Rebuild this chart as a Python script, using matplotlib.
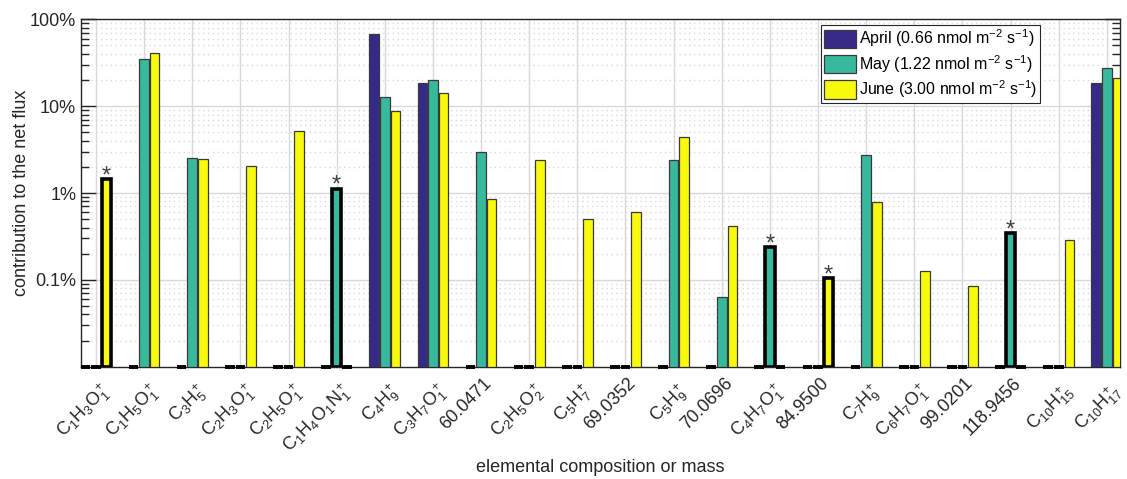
import numpy as np
import matplotlib
matplotlib.use("Agg")
import matplotlib.pyplot as plt
from matplotlib.patches import Patch
from matplotlib.ticker import FixedLocator, NullFormatter
from matplotlib.transforms import ScaledTranslation

plt.rcParams['font.family'] = ['Liberation Sans', 'DejaVu Sans']
plt.rcParams['mathtext.fontset'] = 'custom'
plt.rcParams['mathtext.rm'] = 'Liberation Sans'
plt.rcParams['mathtext.it'] = 'Liberation Sans:italic'
plt.rcParams['mathtext.bf'] = 'Liberation Sans:bold'

labels = [r'C$_1$H$_3$O$_1^+$', r'C$_1$H$_5$O$_1^+$', r'C$_3$H$_5^+$', r'C$_2$H$_3$O$_1^+$',
          r'C$_2$H$_5$O$_1^+$', r'C$_1$H$_4$O$_1$N$_1^+$', r'C$_4$H$_9^+$', r'C$_3$H$_7$O$_1^+$',
          '60.0471', r'C$_2$H$_5$O$_2^+$', r'C$_5$H$_7^+$', '69.0352', r'C$_5$H$_9^+$', '70.0696',
          r'C$_4$H$_7$O$_1^+$', '84.9500', r'C$_7$H$_9^+$', r'C$_6$H$_7$O$_1^+$', '99.0201',
          '118.9456', r'C$_{10}$H$_{15}^+$', r'C$_{10}$H$_{17}^+$']

# contribution to net flux in percent (0 = not observed)
april = [0, 0, 0, 0, 0, 0, 67, 18.4, 0, 0, 0, 0, 0, 0, 0, 0, 0, 0, 0, 0, 0, 18.7]
may   = [0, 34.6, 2.55, 0, 0, 1.12, 12.6, 19.8, 3.0, 0, 0, 0, 2.4, 0.063, 0.238, 0, 2.72, 0, 0, 0.343, 0, 27.2]
june  = [1.44, 41.2, 2.45, 2.05, 5.2, 0, 8.7, 14.1, 0.853, 2.38, 0.497, 0.598, 4.45, 0.413, 0, 0.104, 0.78, 0.128, 0.086, 0, 0.29, 20.9]
# bars marked with an asterisk: (group index, series index)
starred = [(0, 2), (5, 1), (14, 1), (15, 2), (19, 1)]

series_names = [r'April (0.66 nmol m$^{-2}$ s$^{-1}$)',
                r'May (1.22 nmol m$^{-2}$ s$^{-1}$)',
                r'June (3.00 nmol m$^{-2}$ s$^{-1}$)']
colors = ['#352a87', '#38b89d', '#f8fa0d']

fig = plt.figure(figsize=(11.27, 4.79), dpi=100)
ax = fig.add_axes([0.0719, 0.2344, 0.9222, 0.7253])

ymin, ymax = 0.01, 100
x = np.arange(1, len(labels) + 1)
offs = [-0.22, 0.0, 0.22]
w = 0.2
data = [april, may, june]

for s, vals in enumerate(data):
    for i, v in enumerate(vals):
        xi = x[i] + offs[s]
        if v <= 0:
            ax.bar(xi, 0, bottom=ymin, width=w, color=colors[s], edgecolor='black',
                   linewidth=2.8, clip_on=False, zorder=3)
        elif (i, s) in starred:
            ax.bar(xi, v - ymin, bottom=ymin, width=w, color=colors[s], edgecolor='black',
                   linewidth=2.6, zorder=3)
            ax.text(xi, v * 0.925, '*', ha='center', va='baseline', fontsize=17,
                    color='#404040', zorder=4)
        else:
            ax.bar(xi, v - ymin, bottom=ymin, width=w, color=colors[s], edgecolor='#3a3a3a',
                   linewidth=0.9, zorder=3)

ax.set_yscale('log')
ax.set_ylim(ymin, ymax)
ax.set_xlim(0.69, 22.28)
ax.set_yticks([0.1, 1, 10, 100])
ax.set_yticklabels(['0.1%', '1%', '10%', '100%'])
ax.yaxis.set_minor_locator(FixedLocator([m * 10.0 ** e for e in range(-2, 2) for m in range(2, 10)]))
ax.yaxis.set_minor_formatter(NullFormatter())
ax.set_xticks(x)
ax.set_xticklabels([])

# rotated category labels anchored just below each tick
for xi, lab in zip(x, labels):
    if '$' in lab:
        dx, dy = 12, 21
    else:
        dx, dy = 8, 14
    tr = ax.get_xaxis_transform() + ScaledTranslation(dx / 100, -dy / 100, fig.dpi_scale_trans)
    ax.text(xi, 0, lab, transform=tr, rotation=45, rotation_mode='anchor', ha='right',
            va='center', fontsize=13, color='#262626', clip_on=False)

ax.tick_params(axis='x', length=0)
ax.tick_params(axis='y', which='major', direction='in', length=11, width=1, right=True,
               labelsize=13, colors='#262626')
ax.tick_params(axis='y', which='minor', direction='in', length=6, width=1, right=True,
               colors='#262626')
for sp in ax.spines.values():
    sp.set_color('#262626')
    sp.set_linewidth(1.0)

ax.grid(True, which='major', axis='both', color='#d9d9d9', linewidth=1.0, zorder=0)
ax.grid(True, which='minor', axis='y', color='#d9d9d9', linewidth=1.0, linestyle=(0, (1, 2.5)), zorder=0)
ax.set_axisbelow(True)

ax.set_ylabel('contribution to the net flux', fontsize=13, color='#262626', va='center')
ax.yaxis.set_label_coords(-0.0568, 0.5)
ax.set_xlabel('elemental composition or mass', fontsize=13, color='#262626', va='center')
ax.xaxis.set_label_coords(0.5, -0.289)

handles = [Patch(facecolor=c, edgecolor='#3a3a3a', linewidth=0.9) for c in colors]
leg = ax.legend(handles, series_names, loc='upper right', bbox_to_anchor=(0.923, 0.984),
                borderaxespad=0, fontsize=11.5, handlelength=2.0, handleheight=1.38,
                handletextpad=0.2, labelspacing=0.22, borderpad=0.18, fancybox=False,
                framealpha=1, edgecolor='#262626')
leg.get_frame().set_linewidth(0.8)
leg.set_zorder(5)

fig.savefig('out.png', dpi=100)
